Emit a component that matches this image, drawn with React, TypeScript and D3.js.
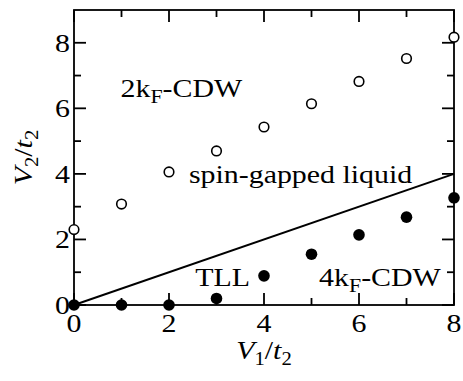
import * as d3 from 'd3';

// values
const xs = [0, 1, 2, 3, 4, 5, 6, 7, 8];
const openVals = [2.3, 3.08, 4.06, 4.7, 5.43, 6.14, 6.82, 7.52, 8.17];
const filledVals = [0, 0, 0, 0.2, 0.89, 1.55, 2.14, 2.68, 3.27];
const boundary = [{ x: 0, y: 0 }, { x: 8, y: 4 }];
const majorTicks = [0, 2, 4, 6, 8];
const minorTicks = [1, 3, 5, 7];

const W = 463;
const H = 381;
const margin = { top: 10, right: 9, bottom: 76, left: 74 };
const FONT = '"Liberation Serif", "Times New Roman", serif';
const FS = 26;
const SX = 1.15;

const x = d3.scaleLinear().domain([0, 8]).range([margin.left, W - margin.right]);
const y = d3.scaleLinear().domain([0, 9]).range([H - margin.bottom, margin.top]);

const line = d3.line<{ x: number; y: number }>()
  .x(d => x(d.x))
  .y(d => y(d.y));

// text helper: slightly wide serif like the original
function Label({ px, py, anchor = 'start', children }: { px: number; py: number; anchor?: string; children: any }) {
  return (
    <g transform={`translate(${px},${py}) scale(${SX},1)`}>
      <text x={0} y={0} fontFamily={FONT} fontSize={FS} textAnchor={anchor} fill="#000">
        {children}
      </text>
    </g>
  );
}

function KF({ n }: { n: string }) {
  return (
    <>
      {n}k<tspan fontSize={19} dy={6}>F</tspan><tspan dy={-6}>-CDW</tspan>
    </>
  );
}

export default function App() {
  const x0 = x(0), x1 = x(8), y0 = y(0), y1 = y(9);
  const major = 12;
  const minor = 7;
  return (
    <svg width={W} height={H} style={{ position: 'absolute', left: 0, top: 0, background: '#fff' }}>
      {/* ticks, pointing inward on all four sides */}
      <g stroke="#000" strokeWidth={1.8}>
        {[...majorTicks.map(t => [t, major]), ...minorTicks.map(t => [t, minor])].map(([t, len]) => (
          <g key={'x' + t}>
            <line x1={x(t)} x2={x(t)} y1={y0} y2={y0 - len} />
            <line x1={x(t)} x2={x(t)} y1={y1} y2={y1 + len} />
          </g>
        ))}
        {[...majorTicks.map(t => [t, major]), ...minorTicks.map(t => [t, minor])].map(([t, len]) => (
          <g key={'y' + t}>
            <line x1={x0} x2={x0 + len} y1={y(t)} y2={y(t)} />
            <line x1={x1} x2={x1 - len} y1={y(t)} y2={y(t)} />
          </g>
        ))}
        <rect x={x0} y={y1} width={x1 - x0} height={y0 - y1} fill="none" />
      </g>

      {/* tick labels */}
      {majorTicks.map(t => (
        <Label key={'xl' + t} px={x(t)} py={y0 + 27} anchor="middle">{t}</Label>
      ))}
      {majorTicks.map(t => (
        <Label key={'yl' + t} px={x0 - 4} py={y(t) + 9} anchor="end">{t}</Label>
      ))}

      {/* phase boundary */}
      <path d={line(boundary) || ''} fill="none" stroke="#000" strokeWidth={2} />

      {/* markers */}
      {xs.map((v, i) => (
        <circle key={'o' + i} cx={x(v)} cy={y(openVals[i])} r={4.8} fill="#fff" stroke="#000" strokeWidth={1.6} />
      ))}
      {xs.map((v, i) => (
        <circle key={'f' + i} cx={x(v)} cy={y(filledVals[i])} r={5.8} fill="#000" />
      ))}

      {/* phase labels */}
      <Label px={x(0.98)} py={y(6.35)}><KF n="2" /></Label>
      <Label px={x(2.42)} py={y(3.71)}>spin-gapped liquid</Label>
      <Label px={x(2.55)} py={y(0.58)}>TLL</Label>
      <Label px={x(5.16)} py={y(0.58)}><KF n="4" /></Label>

      {/* axis titles */}
      <Label px={x(4)} py={359} anchor="middle">
        <tspan fontStyle="italic">V</tspan><tspan fontSize={18} dy={6}>1</tspan>
        <tspan dy={-6}>/</tspan><tspan fontStyle="italic">t</tspan><tspan fontSize={18} dy={6}>2</tspan>
      </Label>
      <g transform={`translate(32,${(y0 + y1) / 2}) rotate(-90)`}>
        <Label px={0} py={0} anchor="middle">
          <tspan fontStyle="italic">V</tspan><tspan fontSize={18} dy={6}>2</tspan>
          <tspan dy={-6}>/</tspan><tspan fontStyle="italic">t</tspan><tspan fontSize={18} dy={6}>2</tspan>
        </Label>
      </g>
    </svg>
  );
}
